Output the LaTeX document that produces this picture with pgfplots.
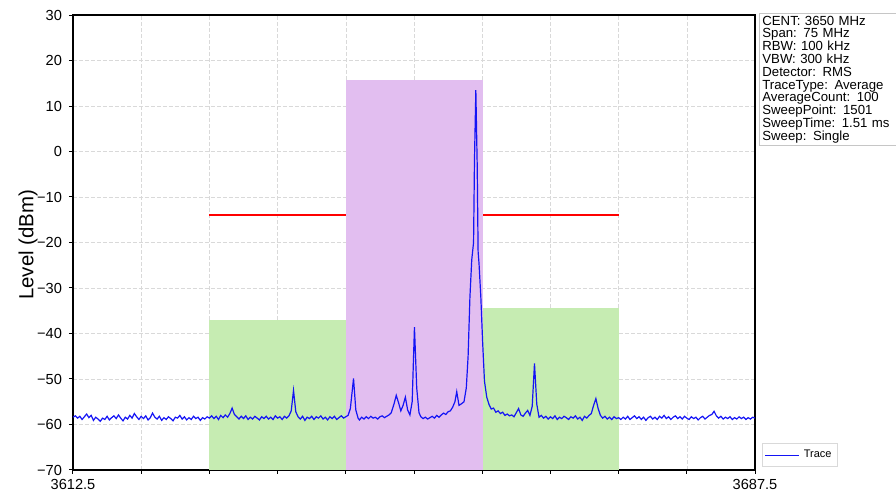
\documentclass[border=0pt]{standalone}
\usepackage{pgfplots}
\pgfplotsset{compat=1.18}
\usepackage{fontspec}
\setmainfont{Liberation Sans}

\definecolor{chgreen}{RGB}{198,236,178}
\definecolor{chpurple}{RGB}{226,190,240}
\definecolor{trace}{RGB}{20,20,245}

\begin{document}
\begin{tikzpicture}
\useasboundingbox (-36.5pt,-16pt) rectangle (411.5pt,235pt);
\begin{axis}[
    scale only axis,
    width=341pt, height=227.5pt,
    xmin=3612.5, xmax=3687.5,
    ymin=-70, ymax=30,
    xtick={3612.5,3620,3627.5,3635,3642.5,3650,3657.5,3665,3672.5,3680,3687.5},
    xticklabels={3612.5,,,,,,,,,,3687.5},
    ytick={-70,-60,-50,-40,-30,-20,-10,0,10,20,30},
    yticklabels={−70,−60,−50,−40,−30,−20,−10,0,10,20,30},
    tick pos=left,
    tick align=outside,
    major tick length=2pt,
    tick style={black, line width=0.5pt},
    ticklabel style={font=\fontsize{7.3}{8}\selectfont},
    xticklabel style={yshift=1pt},
    grid=major,
    major grid style={gray!30, line width=0.3pt, dash pattern=on 2pt off 1pt},
    axis line style={black, line width=0.6pt},
    ylabel={Level (dBm)},
    ylabel style={at={(axis description cs:-0.066,0.495)}, anchor=center, font=\fontsize{10.2}{12}\selectfont},
    legend style={at={(axis description cs:1.0103,0.007)}, anchor=south west,
        draw=gray!30, font=\fontsize{5.5}{6}\selectfont, inner sep=1pt,
        row sep=0pt},
    legend cell align=left,
    legend image post style={line width=0.6pt},
]
% left adjacent channel
\addplot[fill=chgreen, draw=none, forget plot] coordinates {
    (3627.5,-70) (3627.5,-37) (3642.5,-37) (3642.5,-70)};
% right adjacent channel
\addplot[fill=chgreen, draw=none, forget plot] coordinates {
    (3657.5,-70) (3657.5,-34.4) (3672.5,-34.4) (3672.5,-70)};
% limit line
\addplot[red, line width=0.7pt, forget plot] coordinates {(3627.5,-14) (3672.5,-14)};
% main channel
\addplot[fill=chpurple, draw=none, forget plot] coordinates {
    (3642.5,-70) (3642.5,15.7) (3657.6,15.7) (3657.6,-70)};
% measured trace
\addplot[trace, line width=0.6pt] coordinates {
(3612.50,-58.4) (3612.75,-58.1) (3613.00,-58.6) (3613.25,-58.2) (3613.50,-58.9) (3613.75,-58.3)
(3614.00,-57.7) (3614.25,-58.5) (3614.50,-58.0) (3614.75,-59.1) (3615.00,-58.4) (3615.25,-58.8)
(3615.50,-59.3) (3615.75,-58.6) (3616.00,-58.9) (3616.25,-58.2) (3616.50,-59.0) (3616.75,-58.5)
(3617.00,-58.1) (3617.25,-58.7) (3617.50,-57.9) (3617.75,-58.6) (3618.00,-59.2) (3618.25,-58.4)
(3618.50,-58.8) (3618.75,-58.0) (3619.00,-58.6) (3619.25,-57.6) (3619.50,-58.3) (3619.75,-58.9)
(3620.00,-58.2) (3620.25,-58.7) (3620.50,-58.1) (3620.75,-59.0) (3621.00,-58.5) (3621.25,-57.5)
(3621.50,-58.4) (3621.75,-58.8) (3622.00,-58.2) (3622.25,-59.1) (3622.50,-58.5) (3622.75,-58.9)
(3623.00,-58.3) (3623.25,-58.7) (3623.50,-59.2) (3623.75,-58.4) (3624.00,-58.6) (3624.25,-58.0)
(3624.50,-58.8) (3624.75,-58.3) (3625.00,-59.0) (3625.25,-58.5) (3625.50,-58.9) (3625.75,-58.2)
(3626.00,-58.7) (3626.25,-58.4) (3626.50,-59.1) (3626.75,-58.5) (3627.00,-58.8) (3627.25,-58.3)
(3627.50,-58.6) (3627.75,-58.1) (3628.00,-58.7) (3628.25,-58.2) (3628.50,-58.9) (3628.75,-58.0)
(3629.00,-58.5) (3629.25,-57.9) (3629.50,-58.4) (3629.75,-57.6) (3630.00,-56.4) (3630.25,-57.8)
(3630.50,-58.3) (3630.75,-58.8) (3631.00,-58.2) (3631.25,-58.7) (3631.50,-58.1) (3631.75,-58.9)
(3632.00,-58.4) (3632.25,-58.8) (3632.50,-58.2) (3632.75,-58.6) (3633.00,-59.0) (3633.25,-58.3)
(3633.50,-58.7) (3633.75,-58.2) (3634.00,-58.8) (3634.25,-58.4) (3634.50,-58.9) (3634.75,-58.1)
(3635.00,-58.6) (3635.25,-58.3) (3635.50,-58.9) (3635.75,-58.2) (3636.00,-58.6) (3636.25,-58.1)
(3636.50,-57.0) (3636.75,-52.5) (3637.00,-57.2) (3637.25,-58.3) (3637.50,-58.8) (3637.75,-58.2)
(3638.00,-59.1) (3638.25,-58.4) (3638.50,-58.7) (3638.75,-58.2) (3639.00,-58.9) (3639.25,-58.3)
(3639.50,-58.6) (3639.75,-58.1) (3640.00,-58.8) (3640.25,-58.4) (3640.50,-59.0) (3640.75,-58.3)
(3641.00,-58.7) (3641.25,-58.2) (3641.50,-58.9) (3641.75,-58.5) (3642.00,-58.1) (3642.25,-58.6)
(3642.50,-58.3) (3642.75,-58.0) (3643.00,-56.5) (3643.35,-49.9) (3643.60,-56.8) (3643.85,-58.6)
(3644.00,-59.0) (3644.25,-58.4) (3644.50,-58.8) (3644.75,-58.3) (3645.00,-58.7) (3645.25,-58.2)
(3645.50,-58.6) (3645.75,-58.4) (3646.00,-58.8) (3646.25,-58.3) (3646.50,-58.1) (3646.75,-58.5)
(3647.00,-58.2) (3647.25,-57.9) (3647.50,-57.4) (3647.80,-55.5) (3648.05,-53.6) (3648.30,-55.2)
(3648.55,-57.0) (3648.80,-55.8) (3649.05,-54.0) (3649.30,-56.8) (3649.55,-57.9) (3649.80,-55.0)
(3650.05,-38.6) (3650.30,-52.0) (3650.55,-57.4) (3650.75,-58.3) (3651.00,-58.7) (3651.25,-58.4)
(3651.50,-58.8) (3651.75,-58.5) (3652.00,-58.2) (3652.25,-58.6) (3652.50,-58.0) (3652.75,-58.4)
(3653.00,-57.9) (3653.25,-57.5) (3653.50,-57.8) (3653.75,-57.2) (3654.00,-57.0) (3654.25,-56.2)
(3654.50,-55.0) (3654.70,-52.8) (3654.95,-55.8) (3655.25,-55.4) (3655.50,-55.0) (3655.75,-52.0)
(3655.95,-45.0) (3656.15,-32.0) (3656.35,-23.8) (3656.55,-20.0) (3656.65,-2.0) (3656.80,13.5)
(3656.95,-3.0) (3657.05,-22.0) (3657.15,-24.6) (3657.35,-32.0) (3657.55,-42.0) (3657.75,-50.5)
(3658.00,-54.0) (3658.25,-55.6) (3658.50,-56.6) (3658.75,-56.4) (3659.00,-57.3) (3659.25,-57.0)
(3659.50,-57.6) (3659.75,-57.3) (3660.00,-58.0) (3660.25,-57.7) (3660.50,-58.1) (3660.75,-57.9)
(3661.00,-58.3) (3661.25,-57.4) (3661.50,-56.5) (3661.75,-57.9) (3662.00,-58.2) (3662.25,-57.5)
(3662.50,-56.9) (3662.75,-58.0) (3663.00,-56.0) (3663.25,-46.6) (3663.50,-55.5) (3663.75,-58.4)
(3664.00,-58.0) (3664.25,-58.6) (3664.50,-58.2) (3664.75,-58.8) (3665.00,-58.3) (3665.25,-58.7)
(3665.50,-58.1) (3665.75,-58.9) (3666.00,-58.4) (3666.25,-58.7) (3666.50,-58.2) (3666.75,-58.5)
(3667.00,-58.9) (3667.25,-58.3) (3667.50,-58.6) (3667.75,-58.1) (3668.00,-58.8) (3668.25,-58.4)
(3668.50,-59.1) (3668.75,-58.2) (3669.00,-58.6) (3669.25,-58.0) (3669.50,-57.6) (3669.75,-55.8)
(3670.00,-54.3) (3670.25,-56.5) (3670.50,-58.0) (3670.75,-58.6) (3671.00,-58.2) (3671.25,-58.8)
(3671.50,-58.4) (3671.75,-58.9) (3672.00,-58.3) (3672.25,-58.7) (3672.50,-58.5) (3672.75,-58.9)
(3673.00,-58.4) (3673.25,-58.8) (3673.50,-58.2) (3673.75,-58.9) (3674.00,-58.5) (3674.25,-58.1)
(3674.50,-58.7) (3674.75,-58.3) (3675.00,-58.9) (3675.25,-58.4) (3675.50,-59.1) (3675.75,-58.5)
(3676.00,-58.2) (3676.25,-58.8) (3676.50,-58.4) (3676.75,-58.9) (3677.00,-58.2) (3677.25,-58.6)
(3677.50,-58.0) (3677.75,-58.7) (3678.00,-58.3) (3678.25,-58.9) (3678.50,-58.4) (3678.75,-58.1)
(3679.00,-58.7) (3679.25,-58.3) (3679.50,-58.8) (3679.75,-58.2) (3680.00,-58.6) (3680.25,-58.9)
(3680.50,-58.3) (3680.75,-58.7) (3681.00,-58.4) (3681.25,-59.0) (3681.50,-58.5) (3681.75,-58.2)
(3682.00,-58.8) (3682.25,-58.4) (3682.50,-58.0) (3682.75,-57.8) (3683.00,-57.1) (3683.25,-58.1)
(3683.50,-58.6) (3683.75,-58.2) (3684.00,-58.8) (3684.25,-58.4) (3684.50,-58.7) (3684.75,-58.3)
(3685.00,-58.9) (3685.25,-58.5) (3685.50,-58.8) (3685.75,-58.3) (3686.00,-58.7) (3686.25,-58.4)
(3686.50,-58.9) (3686.75,-58.5) (3687.00,-58.8) (3687.25,-58.4) (3687.50,-58.6)
};
\addlegendentry{Trace}
\end{axis}
\node[draw=gray!45, line width=0.4pt, anchor=north west, align=left,
      inner xsep=1.5pt, inner ysep=1.2pt, text width=72pt,
      font=\fontsize{6.6}{6.4}\selectfont]
  at (343pt,228.5pt) {CENT: 3650 MHz\\Span: 75 MHz\\RBW: 100 kHz\\VBW: 300 kHz\\Detector: RMS\\TraceType: Average\\AverageCount: 100\\SweepPoint: 1501\\SweepTime: 1.51 ms\\Sweep: Single};
\end{tikzpicture}
\end{document}
